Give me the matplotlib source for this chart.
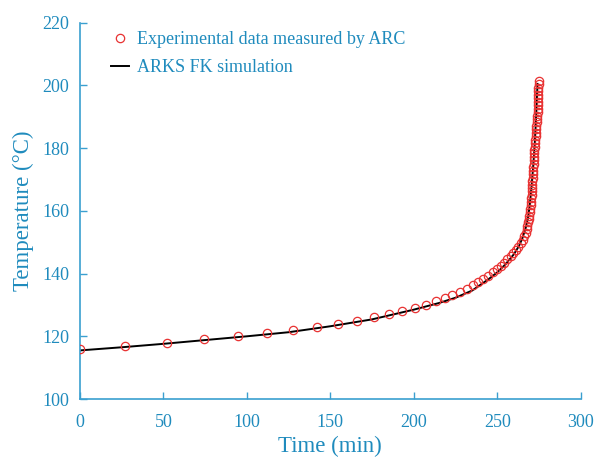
import matplotlib.pyplot as plt

# ARC measurements (time in min, temperature in degC)
exp_time = [0, 27, 52, 74.5, 94.5, 112, 127.5, 142, 154.5, 166, 176, 185, 193,
            200.5, 207, 213.5, 218.5, 223, 227.5, 232, 235.5, 238.5, 241.5,
            244.5, 247.5, 250, 252.3, 254.2, 256, 258, 259.5, 261.2, 262.7,
            264, 265.2, 266.2, 267, 267.6, 268.1, 268.6, 268.9, 269.2, 269.5,
            269.8, 270, 270.2, 270.4, 270.6, 270.7, 270.8, 270.9, 271.0,
            271.2, 271.4, 271.6, 271.7, 271.8, 271.9, 272.0, 272.1, 272.3,
            272.5, 272.7, 272.9, 273.1, 273.2, 273.3, 273.4, 273.6, 273.8,
            274.0, 274.2, 274.3, 274.4, 274.5, 274.5, 274.6, 274.6, 274.7,
            274.8, 275.0]
exp_temp = [115.8, 116.9, 117.9, 119.0, 120.0, 121.0, 122.0, 123.0, 124.0,
            125.0, 126.0, 127.0, 128.0, 129.0, 130.1, 131.2, 132.2, 133.2,
            134.2, 135.1, 136.3, 137.3, 138.3, 139.3, 140.4, 141.4, 142.4,
            143.5, 144.5, 145.5, 146.5, 147.6, 148.6, 149.7, 150.8, 151.9,
            153.0, 154.1, 155.2, 156.3, 157.4, 158.5, 159.6, 160.7, 161.8,
            162.9, 164.0, 165.1, 166.2, 167.3, 168.4, 169.5, 170.6, 171.7,
            172.8, 173.9, 175.0, 176.1, 177.2, 178.3, 179.4, 180.5, 181.6,
            182.7, 183.8, 184.9, 186.0, 187.1, 188.2, 189.3, 190.4, 191.5,
            192.6, 193.7, 194.8, 195.9, 197.0, 198.1, 199.2, 200.3, 201.4]

# ARKS FK simulation
sim_time = [0, 25, 50, 75, 100, 125, 150, 175, 200, 215, 225, 235, 245, 250,
            255, 260, 263, 265, 267, 268.5, 269.5, 270.5, 271.5, 272.4, 273.1,
            273.7, 274.1]
sim_temp = [115.5, 116.5, 117.6, 118.8, 120.0, 121.3, 123.2, 125.4, 128.5,
            130.6, 132.3, 134.6, 138.3, 140.4, 143.0, 146.2, 148.8, 151.2,
            154.5, 158.0, 162.0, 167.5, 174.0, 181.0, 188.0, 195.0, 200.5]

TEAL = '#1f8bbd'
AXIS = '#3a9fd0'

plt.rcParams['font.family'] = ['Liberation Serif', 'DejaVu Serif']

fig = plt.figure(figsize=(5.95, 4.59), dpi=100)
ax = fig.add_axes([0.1345, 0.1307, 0.8415, 0.8198])

ax.plot(sim_time, sim_temp, color='black', linewidth=1.4, zorder=2,
        label='ARKS FK simulation')
ax.plot(exp_time, exp_temp, linestyle='none', marker='o', markersize=6,
        markerfacecolor='none', markeredgecolor='#e83232',
        markeredgewidth=0.9, zorder=3,
        label='Experimental data measured by ARC')

ax.set_xlim(0, 300)
ax.set_ylim(100, 220)
ax.set_xticks([0, 50, 100, 150, 200, 250, 300])
ax.set_yticks([100, 120, 140, 160, 180, 200, 220])

for side in ['top', 'right']:
    ax.spines[side].set_visible(False)
for side in ['left', 'bottom']:
    ax.spines[side].set_color(AXIS)
    ax.spines[side].set_linewidth(1.2)

ax.tick_params(direction='in', length=5, width=1, color=AXIS,
               labelcolor=TEAL, labelsize=13)
ax.tick_params(axis='x', pad=11)
ax.tick_params(axis='y', pad=8)

ax.set_xlabel('Time (min)', color=TEAL, fontsize=16.5, labelpad=3)
ax.set_ylabel('Temperature (°C)', color=TEAL, fontsize=16.5, labelpad=6)

handles, labels = ax.get_legend_handles_labels()
leg = ax.legend(handles[::-1], labels[::-1], loc='upper left',
                bbox_to_anchor=(0.03, 1.02), frameon=False, fontsize=13,
                handlelength=1.0, handletextpad=0.45, labelspacing=0.6)
for t in leg.get_texts():
    t.set_color(TEAL)

fig.savefig('out.png', dpi=100)
